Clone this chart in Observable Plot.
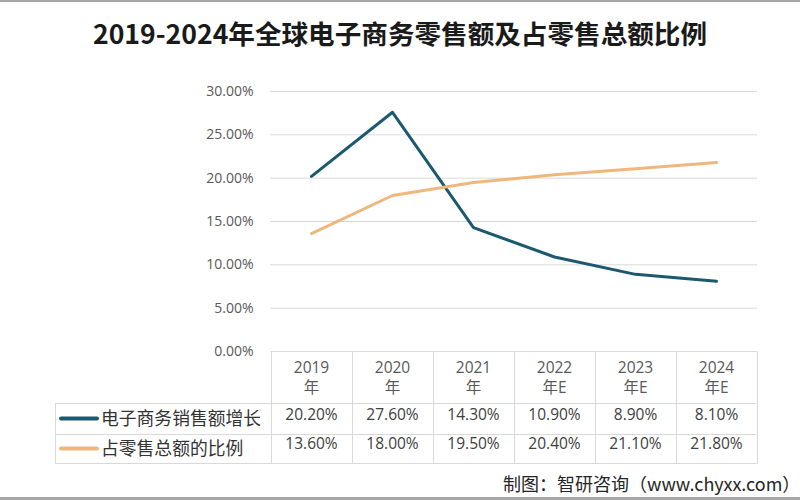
<!DOCTYPE html>
<html>
<head>
<meta charset="utf-8">
<script src="https://cdn.jsdelivr.net/npm/d3@7"></script>
<script src="https://cdn.jsdelivr.net/npm/@observablehq/plot@0.6"></script>
<style>
  body { margin: 0; background: #fff; }
  #wrap { position: relative; width: 800px; height: 500px; overflow: hidden; background: #fff; }
  #title { position: absolute; left: 0; top: 20px; width: 800px; text-align: center;
           font: bold 26.6px/26px "Noto Sans CJK SC", sans-serif; color: #1a1a1a; white-space: nowrap; }
  #chart { position: absolute; left: 0; top: 0; }
  #foot { position: absolute; left: 503px; top: 474px; font: 18px/18px "Noto Sans CJK SC", sans-serif;
          color: #262626; white-space: nowrap; }
  .edge { position: absolute; left: 0; width: 800px; background: #a6a6a6; }
</style>
</head>
<body>
<div id="wrap">
  <div class="edge" style="top:0;height:2px"></div>
  <div id="title">2019-2024年全球电子商务零售额及占零售总额比例</div>
  <div id="chart"></div>
  <div id="foot">制图：智研咨询（www.chyxx.com）</div>
  <div class="edge" style="top:497px;height:3px"></div>
</div>
<script>
// ---- data ----
const years = ["2019", "2020", "2021", "2022", "2023", "2024"];
const yearLabels = ["2019\n年", "2020\n年", "2021\n年", "2022\n年E", "2023\n年E", "2024\n年E"];
const growth = [0.202, 0.276, 0.143, 0.109, 0.089, 0.081];
const share = [0.136, 0.180, 0.195, 0.204, 0.211, 0.218];
const seriesNames = ["电子商务销售额增长", "占零售总额的比例"];
const seriesColors = ["#1b5a6e", "#f0b77c"];
const yTicks = [0, 0.05, 0.10, 0.15, 0.20, 0.25, 0.30];

const table = years.map((year, i) => ({year, label: yearLabels[i], growth: growth[i], share: share[i]}));
const labelOf = Object.fromEntries(table.map(d => [d.year, d.label]));
const pct = d3.format(".2%");

// table grid, legend swatches and series names, positioned from Plot's x scale
function dataTable(index, scales, values, dim) {
  const x = scales.x;
  const step = x(years[1]) - x(years[0]);
  const left = x(years[0]) - step / 2;
  const right = x(years[years.length - 1]) + step / 2;
  const top = dim.height - dim.marginBottom;
  const rows = [top, top + 52, top + 83, top + 112];
  const tableLeft = 55;
  const g = d3.create("svg:g");
  const grid = g.append("g").attr("stroke", "#d9d9d9").attr("stroke-width", 1).attr("fill", "none");
  const hline = (x1, x2, y) => grid.append("line").attr("x1", x1).attr("x2", x2).attr("y1", y + 0.5).attr("y2", y + 0.5);
  const vline = (xx, y1, y2) => grid.append("line").attr("x1", xx + 0.5).attr("x2", xx + 0.5).attr("y1", y1).attr("y2", y2);
  hline(left, right, rows[0]);
  for (let r = 1; r < rows.length; ++r) hline(tableLeft, right, rows[r]);
  for (let i = 0; i <= years.length; ++i) vline(Math.round(left + i * step), rows[0], rows[3] + 1);
  vline(tableLeft, rows[1], rows[3] + 1);
  seriesNames.forEach((name, k) => {
    const cy = (rows[k + 1] + rows[k + 2]) / 2;
    g.append("line").attr("x1", 61).attr("x2", 97).attr("y1", cy).attr("y2", cy)
      .attr("stroke", seriesColors[k]).attr("stroke-width", 4).attr("stroke-linecap", "round");
    g.append("text").attr("x", 101).attr("y", cy).attr("dy", "0.36em")
      .attr("text-anchor", "start")
      .attr("font-family", '"Noto Sans CJK SC", sans-serif').attr("font-size", 17.8)
      .attr("fill", "#333").text(name);
  });
  return g.node();
}

const chart = Plot.plot({
  width: 800,
  height: 500,
  marginTop: 91,
  marginBottom: 149,
  marginLeft: 270,
  marginRight: 43,
  style: {fontFamily: '"Open Sans", "Noto Sans CJK SC", sans-serif', background: "transparent"},
  x: {type: "point", domain: years, padding: 0.5, axis: null},
  y: {domain: [0, 0.3], axis: null},
  marks: [
    Plot.gridY(yTicks.slice(1), {stroke: "#d9d9d9", strokeOpacity: 1, strokeWidth: 1}),
    Plot.axisY(yTicks, {tickSize: 0, tickPadding: 17, tickFormat: pct, fontSize: 14, color: "#595959", label: null}),
    Plot.axisX(years, {tickSize: 0, tickPadding: 7, tickFormat: d => labelOf[d], fontSize: 15.5,
                       lineHeight: 1.3, color: "#595959", label: null}),
    dataTable,
    Plot.line(table, {x: "year", y: "growth", stroke: seriesColors[0], strokeWidth: 3}),
    Plot.line(table, {x: "year", y: "share", stroke: seriesColors[1], strokeWidth: 3}),
    Plot.text(table, {x: "year", text: d => pct(d.growth), frameAnchor: "bottom", dy: 68,
                      fontSize: 15.5, fill: "#404040"}),
    Plot.text(table, {x: "year", text: d => pct(d.share), frameAnchor: "bottom", dy: 97,
                      fontSize: 15.5, fill: "#404040"})
  ]
});
document.getElementById("chart").append(chart);
</script>
</body>
</html>
